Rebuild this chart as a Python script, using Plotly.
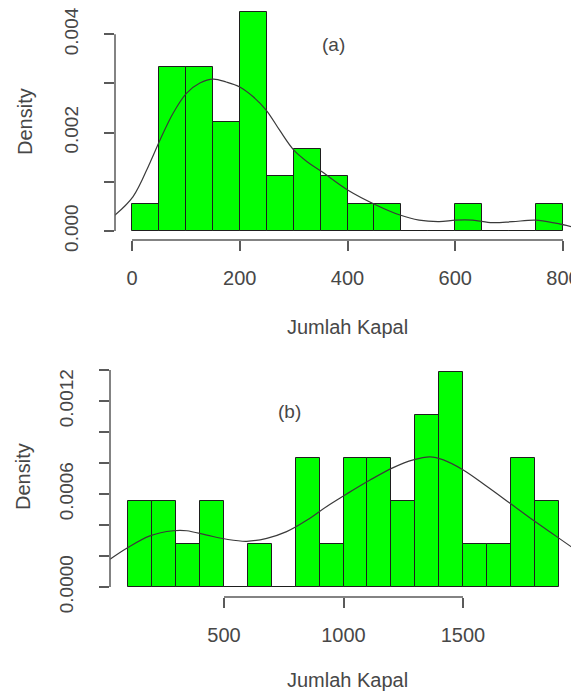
import plotly.graph_objects as go

# ---------------- data (a) ----------------
a_bin_left = [0, 50, 100, 150, 200, 250, 300, 350, 400, 450, 500, 550, 600, 650, 700, 750]
a_counts   = [1, 6, 6, 4, 8, 2, 3, 2, 1, 1, 0, 0, 1, 0, 0, 1]
a_bin_width = 50
a_curve_x = [-32, 2, 33, 52, 76, 101, 126, 151, 175, 200, 225, 249, 274, 300, 325, 352,
             401, 453, 496, 533, 570, 601, 632, 669, 706, 749, 786, 830]
a_curve_y = [0.00032, 0.00070, 0.00138, 0.00185, 0.00239, 0.00280, 0.00301, 0.00309,
             0.00303, 0.00293, 0.00273, 0.00246, 0.00205, 0.00165, 0.00141, 0.00121,
             0.00083, 0.00053, 0.00033, 0.00022, 0.00019, 0.00022, 0.00022, 0.00017,
             0.00019, 0.00022, 0.00016, 0.00005]
a_xticks = [0, 200, 400, 600, 800]
a_yticks = [0, 0.001, 0.002, 0.003, 0.004]
a_ytext  = ["0.000", "", "0.002", "", "0.004"]

# ---------------- data (b) ----------------
b_bin_left = [100, 200, 300, 400, 500, 600, 700, 800, 900, 1000, 1100, 1200, 1300,
              1400, 1500, 1600, 1700, 1800]
b_counts   = [2, 2, 1, 2, 0, 1, 0, 3, 1, 3, 3, 2, 4, 5, 1, 1, 3, 2]
b_bin_width = 100
b_curve_x = [23, 93, 190, 288, 344, 428, 511, 595, 679, 762, 846, 930, 1013, 1111,
             1208, 1292, 1362, 1418, 1501, 1599, 1697, 1794, 1892, 1985]
b_curve_y = [0.000179, 0.00025, 0.00033, 0.000363, 0.000363, 0.000335, 0.000308,
             0.000295, 0.000314, 0.000357, 0.00043, 0.00052, 0.00060, 0.00069, 0.00077,
             0.00082, 0.00084, 0.00082, 0.000755, 0.00065, 0.00054, 0.00043, 0.000325,
             0.000225]
b_xticks = [500, 1000, 1500]
b_yticks = [0, 0.0002, 0.0004, 0.0006, 0.0008, 0.0010, 0.0012, 0.0014]
b_ytext  = ["0.0000", "", "", "0.0006", "", "", "0.0012", ""]

x_title = "Jumlah Kapal"
y_title = "Density"
panel_a = "(a)"
panel_b = "(b)"

# ---------------- styling ----------------
PAGE_W, PAGE_H = 579, 692
OFF = 8  # default body margin of the html page
W, H = PAGE_W - OFF, PAGE_H - OFF
FONT = "Liberation Sans, Arial, sans-serif"
TXT = "#474747"
AX = "#5a5a5a"
GREEN = "#00ff00"


def dens(counts, width):
    n = sum(counts)
    return [c / (n * width) for c in counts]


def centers(lefts, width):
    return [l + width / 2 for l in lefts]


fig = go.Figure()

fig.add_trace(go.Bar(x=centers(a_bin_left, a_bin_width), y=dens(a_counts, a_bin_width),
                     width=a_bin_width, marker=dict(color=GREEN, line=dict(color="#1e1e1e", width=1)),
                     xaxis="x", yaxis="y", showlegend=False, hoverinfo="skip"))
fig.add_trace(go.Scatter(x=a_curve_x, y=a_curve_y, mode="lines",
                         line=dict(color="#3a3a3a", width=1.2, shape="spline"),
                         xaxis="x", yaxis="y", showlegend=False, hoverinfo="skip"))

fig.add_trace(go.Bar(x=centers(b_bin_left, b_bin_width), y=dens(b_counts, b_bin_width),
                     width=b_bin_width, marker=dict(color=GREEN, line=dict(color="#1e1e1e", width=1)),
                     xaxis="x2", yaxis="y2", showlegend=False, hoverinfo="skip"))
fig.add_trace(go.Scatter(x=b_curve_x, y=b_curve_y, mode="lines",
                         line=dict(color="#3a3a3a", width=1.2, shape="spline"),
                         xaxis="x2", yaxis="y2", showlegend=False, hoverinfo="skip"))


def px_x(p):
    return (p - OFF) / W


def px_y(p):
    return 1 - (p - OFF) / H


common_ax = dict(showgrid=False, zeroline=False, showline=False, ticks="outside",
                 ticklen=10, tickwidth=1.5, tickcolor=AX, automargin=False,
                 ticklabeloverflow="allow")
xfont = dict(family=FONT, size=20, color=TXT)
yfont = dict(family=FONT, size=19, color=TXT)

# top panel: 0 -> px 132, 800 -> px 563 ; 0 -> py 231, 0.004 -> py 34.3
sa = (563 - 132) / 800
ka = (231 - 34.3) / 0.004
top_a = OFF
fig.update_layout(
    xaxis=dict(domain=[px_x(115), 1], range=[(115 - 132) / sa, (PAGE_W - 132) / sa],
               anchor="y", tickvals=a_xticks, ticklabelstandoff=10, tickfont=xfont, **common_ax),
    yaxis=dict(domain=[px_y(240), px_y(top_a)], range=[-(240 - 231) / ka, (231 - top_a) / ka],
               anchor="x", tickvals=a_yticks, ticktext=a_ytext, tickangle=-90,
               ticklabelstandoff=18, tickfont=yfont, **common_ax),
)
# bottom panel: 500 -> px 224, 1500 -> px 463 ; 0 -> py 587, 0.0014 -> py 370
sb = (463 - 224) / 1000
x0b = 224 - 500 * sb
kb = (587 - 370) / 0.0014
fig.update_layout(
    xaxis2=dict(domain=[px_x(110), 1], range=[(110 - x0b) / sb, (PAGE_W - x0b) / sb],
                anchor="y2", tickvals=b_xticks, ticklabelstandoff=10, tickfont=xfont, **common_ax),
    yaxis2=dict(domain=[px_y(597), px_y(363)], range=[-(597 - 587) / kb, (587 - 363) / kb],
                anchor="x2", tickvals=b_yticks, ticktext=b_ytext, tickangle=-90,
                ticklabelstandoff=18, tickfont=yfont, **common_ax),
)

# R-style axis lines spanning first to last tick
shapes = [
    dict(type="line", xref="x", yref="y domain", x0=a_xticks[0], x1=a_xticks[-1], y0=0, y1=0,
         line=dict(color=AX, width=1.5)),
    dict(type="line", xref="x domain", yref="y", x0=0, x1=0, y0=a_yticks[0], y1=a_yticks[-1],
         line=dict(color=AX, width=1.5)),
    dict(type="line", xref="x2", yref="y2 domain", x0=b_xticks[0], x1=b_xticks[-1], y0=0, y1=0,
         line=dict(color=AX, width=1.5)),
    dict(type="line", xref="x2 domain", yref="y2", x0=0, x1=0, y0=b_yticks[0], y1=b_yticks[-1],
         line=dict(color=AX, width=1.5)),
]


def ann(text, x, y, size=20, angle=0):
    return dict(text=text, x=px_x(x), y=px_y(y), xref="paper", yref="paper", showarrow=False,
                xanchor="center", yanchor="middle", textangle=angle,
                font=dict(family=FONT, size=size, color=TXT))


annotations = [
    ann(x_title, 347, 327),
    ann(x_title, 347, 680),
    ann(y_title, 25, 122, angle=-90),
    ann(y_title, 23, 477, angle=-90),
    ann(panel_a, 333, 45, size=19),
    ann(panel_b, 289, 411, size=19),
]

fig.update_layout(width=W, height=H, margin=dict(l=0, r=0, t=0, b=0, autoexpand=False),
                  paper_bgcolor="white", plot_bgcolor="white",
                  shapes=shapes, annotations=annotations, bargap=0, showlegend=False)

fig.write_html("out.html")
